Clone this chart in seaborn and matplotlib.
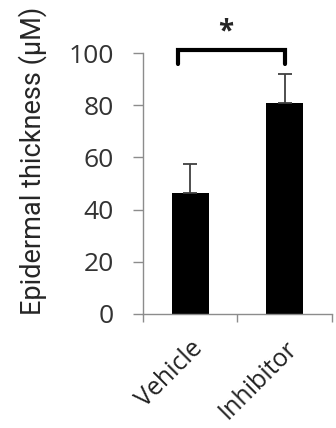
import matplotlib
matplotlib.use("Agg")
import matplotlib.pyplot as plt
import seaborn as sns
import numpy as np

groups = ["Vehicle", "Inhibitor"]
means = [46.5, 81.0]
sem = [11.0, 11.0]
yticks = [0, 20, 40, 60, 80, 100]

sns.set_style("white")
plt.rcParams['font.family'] = ['Open Sans', 'DejaVu Sans']

fig = plt.figure(figsize=(3.36, 4.28), dpi=100)
ax = fig.add_axes([0.4256, 0.2664, 0.5624, 0.6096])

sns.barplot(x=groups, y=means, color="black", width=0.39, saturation=1,
            errorbar=None, ax=ax)
for p in ax.patches:
    p.set_edgecolor("none")

x = np.arange(len(groups))
ax.errorbar(x, means, yerr=[np.zeros(len(sem)), sem], fmt="none",
            ecolor="#404040", elinewidth=1.3, capsize=5, capthick=1.3, zorder=1)

ax.set_xlim(-0.5, 1.5)
ax.set_ylim(0, 100)
ax.set_yticks(yticks)
ax.set_xticks(x)
ax.set_xticks([-0.5, 0.5, 1.5], minor=True)

for s in ["top", "right"]:
    ax.spines[s].set_visible(False)
for s in ["left", "bottom"]:
    ax.spines[s].set_color("#8c8c8c")
    ax.spines[s].set_linewidth(1.0)

ax.tick_params(axis="y", which="major", direction="out", length=7, width=1.0,
               color="#8c8c8c", labelsize=19, labelcolor="#333333", pad=14, left=True)
ax.tick_params(axis="x", which="major", length=0, labelsize=18, labelcolor="#222222", pad=16)
ax.tick_params(axis="x", which="minor", direction="out", length=6, width=1.0,
               color="#8c8c8c", bottom=True)
plt.setp(ax.get_xticklabels(), rotation=45, ha="right", rotation_mode="anchor")

ax.set_ylabel("Epidermal thickness (\u03bcM)", fontsize=19.5, family=["Roboto", "DejaVu Sans"])
ax.yaxis.set_label_coords(-0.51, 0.585)

# significance bracket
ax.plot([-0.13, -0.13, 1.0, 1.0], [96, 101, 101, 96], color="black", lw=3,
        clip_on=False, solid_joinstyle="miter")
ax.text(0.38, 108, "*", ha="center", va="center", fontsize=20, fontweight="bold",
        clip_on=False)

fig.savefig("out.png", dpi=100)
